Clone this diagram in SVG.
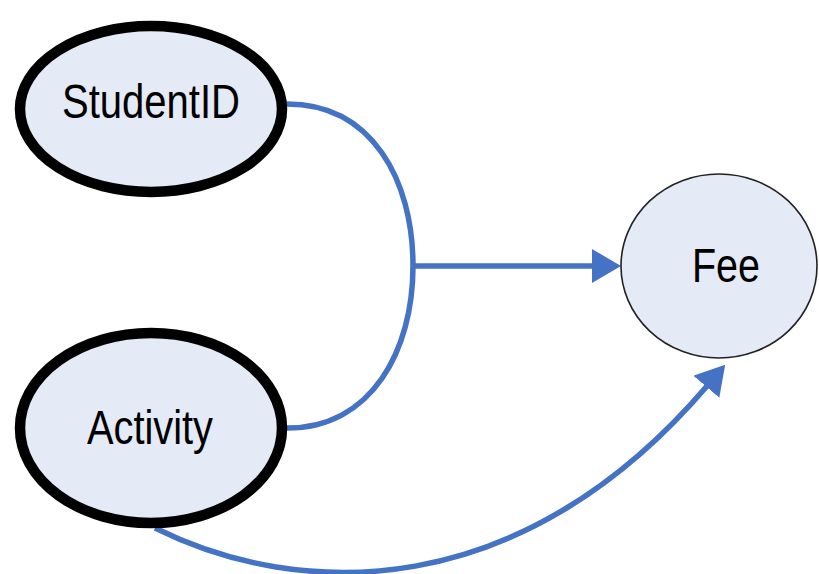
<svg xmlns="http://www.w3.org/2000/svg" width="819" height="574" viewBox="0 0 819 574">
  <style>
    .key { fill: #e4eaf6; stroke: #000; stroke-width: 10.5; }
    .attr { fill: #e4eaf6; stroke: #222; stroke-width: 1.6; }
    .label { font-family: "Liberation Sans", Arial, sans-serif; font-size: 48px; fill: #000; text-anchor: middle; }
    .link { fill: none; stroke: #4472c4; stroke-width: 5.5; }
  </style>
  <defs>
    <marker id="arrow" markerUnits="userSpaceOnUse" markerWidth="30" markerHeight="34" refX="1" refY="17" orient="auto">
      <path d="M0,0 L29,17 L0,34 Z" fill="#4472c4"/>
    </marker>
  </defs>

  <g id="connectors">
    <path class="link" d="M287,104 C372,104 413,180 413,266 C413,350 372,428 287,428"/>
    <path class="link" d="M413,266 L593,266" marker-end="url(#arrow)"/>
    <path class="link" d="M155,528 C300,600 520,605 707,386" marker-end="url(#arrow)"/>
  </g>

  <g id="node-studentid">
    <ellipse class="key" cx="151" cy="109" rx="131" ry="83"/>
    <text class="label" x="151" y="118" textLength="178" lengthAdjust="spacingAndGlyphs">StudentID</text>
  </g>

  <g id="node-activity">
    <ellipse class="key" cx="151" cy="428" rx="131" ry="95"/>
    <text class="label" x="150" y="444" textLength="126" lengthAdjust="spacingAndGlyphs">Activity</text>
  </g>

  <g id="node-fee">
    <ellipse class="attr" cx="719" cy="266" rx="98" ry="92"/>
    <text class="label" x="726" y="282" textLength="68" lengthAdjust="spacingAndGlyphs">Fee</text>
  </g>
</svg>
